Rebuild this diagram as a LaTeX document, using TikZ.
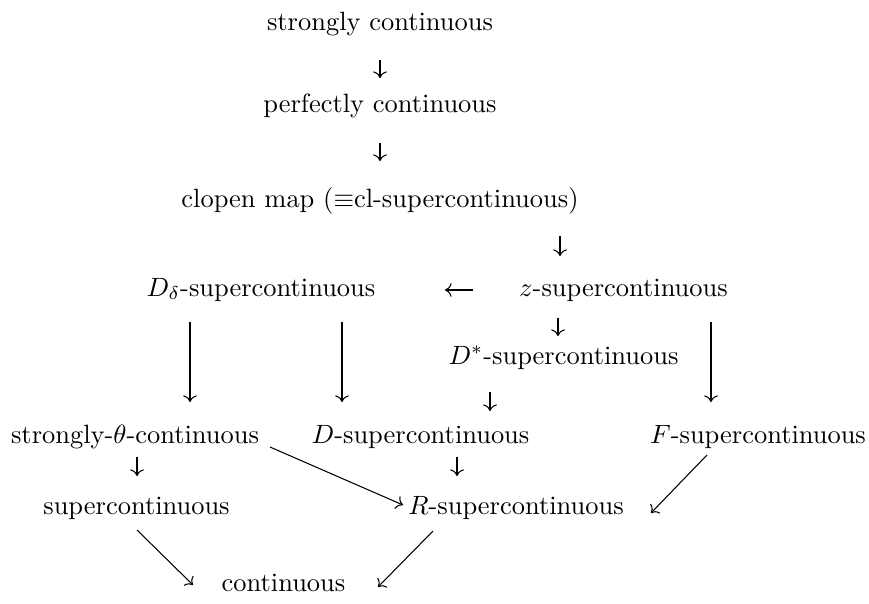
\documentclass[tikz,border=0pt]{standalone}
\usepackage{amsmath,amssymb}
\usepackage{tikz}
\usetikzlibrary{arrows.meta,calc}

\begin{document}
\begin{tikzpicture}[
    x=0.01329cm, y=-0.01329cm,
    prop/.style={anchor=base, inner sep=0pt},
    arrow/.style={-{Computer Modern Rightarrow}, line width=0.4pt},
    stem/.style={line width=0.8pt}
]
\useasboundingbox (0,0) rectangle (869,603);

% Properties
\node[prop] (sc) at (380,30) {strongly continuous};
\node[prop] (pc) at (380,112) {perfectly continuous};
\node[prop] (cl) at (380,207) {clopen map ($\equiv$cl-supercontinuous)};
\node[prop] (Dd) at (261,296) {$D_\delta$-supercontinuous};
\node[prop] (z) at (623.5,296) {$z$-supercontinuous};
\node[prop] (Ds) at (563.5,364) {$D^*$-supercontinuous};
\node[prop] (st) at (135,443) {strongly-$\theta$-continuous};
\node[prop] (D) at (420.5,443) {$D$-supercontinuous};
\node[prop] (F) at (758,443) {$F$-supercontinuous};
\node[prop] (su) at (136.5,514) {supercontinuous};
\node[prop] (R) at (516,514) {$R$-supercontinuous};
\node[prop] (co) at (283.5,591) {continuous};

% Short implications
\draw[arrow] ($(sc.base)+(0,30)$) -- ($(pc.base)+(0,-34)$);
\draw[arrow] ($(pc.base)+(0,31)$) -- ($(cl.base)+(0,-46)$);
\draw[arrow] ($(cl.base)+(180,29)$) -- ($(z.base)+(-63.5,-40)$);
\draw[arrow] ($(z.base)+(-150.5,-6)$) -- ($(Dd.base)+(184,-6)$);
\draw[arrow] ($(z.base)+(-65.5,22)$) -- ($(Ds.base)+(-5.5,-28)$);
\draw[arrow] ($(Ds.base)+(-73.5,28)$) -- ($(D.base)+(69.5,-32)$);
\draw[arrow] ($(st.base)+(2,14)$) -- ($(su.base)+(0.5,-38)$);
\draw[arrow] ($(D.base)+(36.5,14)$) -- ($(R.base)+(-59,-38)$);

% Long implications
\draw[stem] ($(Dd.base)+(-71,26)$) -- ($(st.base)+(55,-56)$);
\draw[arrow] ($(Dd.base)+(-71,26)$) -- ($(st.base)+(55,-41)$);
\draw[stem] ($(Dd.base)+(81,26)$) -- ($(D.base)+(-78.5,-56)$);
\draw[arrow] ($(Dd.base)+(81,26)$) -- ($(D.base)+(-78.5,-41)$);
\draw[stem] ($(z.base)+(87.5,26)$) -- ($(F.base)+(-47,-56)$);
\draw[arrow] ($(z.base)+(87.5,26)$) -- ($(F.base)+(-47,-41)$);

% Diagonal implications
\draw[arrow] ($(st.base)+(135,4)$) -- ($(R.base)+(-113,-9)$);
\draw[arrow] ($(F.base)+(-51,12)$) -- ($(R.base)+(135,-1)$);
\draw[arrow] ($(su.base)+(0.5,16)$) -- ($(co.base)+(-90.5,-6)$);
\draw[arrow] ($(R.base)+(-83,17)$) -- ($(co.base)+(94.5,-4)$);

\end{tikzpicture}
\end{document}
